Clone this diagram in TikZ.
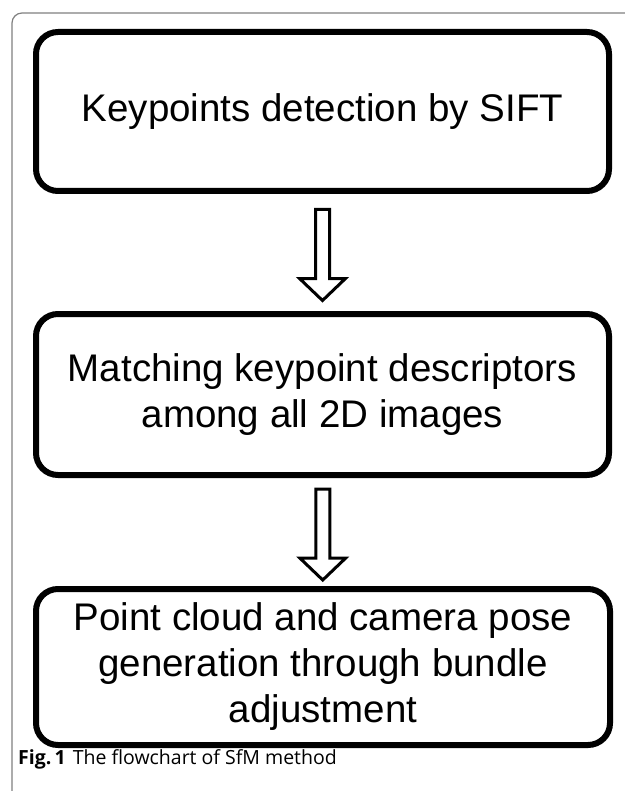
\documentclass[tikz,border=0pt]{standalone}
\usepackage{fontspec}
\usetikzlibrary{calc}
\setmainfont{Liberation Sans}
\newfontfamily\capfont{Open Sans}
\begin{document}
\begin{tikzpicture}[x=1pt,y=-1pt,
  stepbox/.style={draw=black, line width=6pt, rounded corners=22pt, align=center,
    inner sep=0pt, font=\fontsize{38.5}{46}\selectfont},
  hollowarrow/.style={draw=black, line width=3pt, fill=white, line join=miter},
  frame/.style={draw=black!50, line width=1.2pt}]
\useasboundingbox (0,0) rectangle (624,791);
\draw[frame, rounded corners=10pt] (12,792) -- (12,13) -- (625,13);

\node[stepbox, minimum width=573pt, minimum height=159pt] (b1) at (322.5,111.5)
  {Keypoints detection by SIFT};
\node[stepbox, minimum width=573pt, minimum height=161pt] (b2) at (322.5,394.5)
  {Matching keypoint descriptors\\among all 2D images};
\node[stepbox, minimum width=574pt, minimum height=156pt] (b3) at (323,667)
  {Point cloud and camera pose\\generation through bundle\\adjustment};

% hollow arrows between boxes
\coordinate (a1) at ($(b1.south)!0.5!(b2.north)$);
\coordinate (a2) at ($(b2.south)!0.5!(b3.north)$);
\foreach \c in {a1,a2}{
  \draw[hollowarrow] ([shift={(-7,-43)}]\c) -- ([shift={(7,-43)}]\c) --
    ([shift={(7,26)}]\c) -- ([shift={(23,26)}]\c) -- ([shift={(0,48)}]\c) --
    ([shift={(-23,26)}]\c) -- ([shift={(-7,26)}]\c) -- cycle;
}

\node[anchor=base west, inner sep=0pt, font=\capfont\fontsize{19.5}{21}\selectfont] (cap) at (18,764)
  {\textbf{Fig.\,1}\hspace{7pt}The flowchart of SfM method};
\end{tikzpicture}
\end{document}
